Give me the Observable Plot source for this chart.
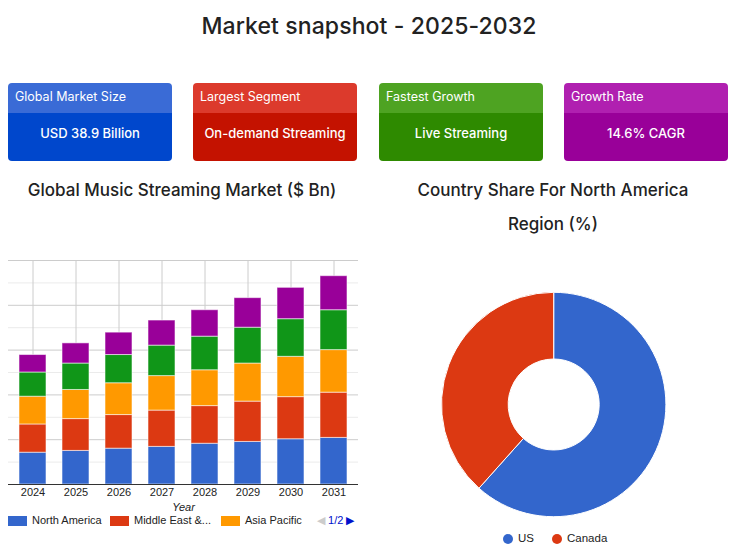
<!DOCTYPE html>
<html>
<head>
<meta charset="utf-8">
<script src="https://cdn.jsdelivr.net/npm/d3@7"></script>
<script src="https://cdn.jsdelivr.net/npm/@observablehq/plot@0.6"></script>
<style>
  html, body { margin: 0; padding: 0; background: #fff; }
  body { width: 738px; height: 558px; position: relative; overflow: hidden; font-family: Inter, "Noto Sans", sans-serif; color: #222; }
  .abs { position: absolute; }
  #title { left: 0; width: 738px; top: 12px; text-align: center; font-size: 23px; font-weight: 500; color: #222; letter-spacing: 0.1px; }
  .card { position: absolute; top: 83px; width: 164px; height: 78px; border-radius: 4px; overflow: hidden; color: #fff; }
  .card .hd { height: 30px; line-height: 27px; padding-left: 7px; font-size: 12.5px; }
  .card .bd { height: 48px; line-height: 40px; text-align: center; font-size: 13px; font-weight: 500; }
  .ctitle { font-size: 17px; font-weight: 500; color: #222; text-align: center; }
  .lg { position: absolute; font-family: Arial, "Liberation Sans", sans-serif; font-size: 11px; color: #222; white-space: nowrap; }
  .sw { position: absolute; width: 19px; height: 10px; }
  .dot { position: absolute; width: 10px; height: 10px; border-radius: 50%; }
</style>
</head>
<body>
<div id="title" class="abs">Market snapshot - 2025-2032</div>
<div id="cards"></div>
<div class="abs ctitle" style="left:0; width:364px; top:180px;">Global Music Streaming Market ($ Bn)</div>
<div class="abs ctitle" style="left:370px; width:366px; top:173px; line-height:34px;">Country Share For North America<br>Region (%)</div>
<div id="bar" class="abs" style="left:0; top:250px;"></div>
<div id="barLegend"></div>
<div id="donut" class="abs" style="left:370px; top:280px;"></div>
<div id="donutLegend"></div>
<script>
// ---- data ----
const cardTitles = ["Global Market Size", "Largest Segment", "Fastest Growth", "Growth Rate"];
const cardValues = ["USD 38.9 Billion", "On-demand Streaming", "Live Streaming", "14.6% CAGR"];
const cardHeadColors = ["#3a6bd6", "#dc3a2c", "#4ea322", "#b020b0"];
const cardBodyColors = ["#0047cc", "#c41200", "#2e8a00", "#990099"];

const years = ["2024", "2025", "2026", "2027", "2028", "2029", "2030", "2031"];
const regions = ["North America", "Middle East & Africa", "Asia Pacific", "Europe", "Latin America"];
const regionColors = ["#3366cc", "#dc3912", "#ff9900", "#109618", "#990099"];
const northAmerica = [7.1, 7.5, 8.0, 8.4, 9.1, 9.5, 10.1, 10.4];
const middleEastAfrica = [6.3, 7.1, 7.5, 8.1, 8.4, 9.0, 9.4, 10.1];
const asiaPacific = [6.2, 6.5, 7.1, 7.7, 8.0, 8.5, 9.0, 9.5];
const europe = [5.4, 5.9, 6.3, 6.8, 7.5, 8.0, 8.4, 8.9];
const latinAmerica = [3.9, 4.5, 5.0, 5.6, 5.9, 6.6, 7.0, 7.6];
const yTicksMajor = [0, 10, 20, 30, 40, 50];
const yTicksMinor = [5, 15, 25, 35, 45];

const shareNames = ["US", "Canada"];
const shareValues = [61.6, 38.4];
const shareColors = ["#3366cc", "#dc3912"];

// ---- cards ----
const cardLeft = [8, 193, 379, 564];
const cardsEl = document.getElementById("cards");
cardTitles.forEach((t, i) => {
  const c = document.createElement("div");
  c.className = "card";
  c.style.left = cardLeft[i] + "px";
  c.innerHTML = `<div class="hd" style="background:${cardHeadColors[i]}">${t}</div><div class="bd" style="background:${cardBodyColors[i]}">${cardValues[i]}</div>`;
  cardsEl.appendChild(c);
});

// ---- bar chart ----
const seriesArrays = [northAmerica, middleEastAfrica, asiaPacific, europe, latinAmerica];
const table = [];
regions.forEach((r, ri) => years.forEach((y, yi) => table.push({year: y, region: r, value: seriesArrays[ri][yi]})));

const barPlot = Plot.plot({
  width: 370, height: 264,
  marginLeft: 8, marginRight: 12, marginTop: 10, marginBottom: 30,
  style: {fontFamily: "Arial, 'Liberation Sans', sans-serif", fontSize: "11px", color: "#222", background: "transparent"},
  x: {domain: years, paddingInner: 0.38, paddingOuter: 0.216, align: 0.5, label: null, tickSize: 0, tickPadding: 4},
  y: {domain: [0, 50], axis: null},
  color: {domain: regions, range: regionColors},
  marks: [
    Plot.ruleY(yTicksMinor, {stroke: "#ebebeb", strokeWidth: 1}),
    Plot.ruleY(yTicksMajor, {stroke: "#cccccc", strokeWidth: 1}),
    Plot.ruleX(years, {stroke: "#cccccc", strokeWidth: 1}),
    Plot.barY(table, {x: "year", y: "value", fill: "region", order: regions, stroke: "#ffffff", strokeOpacity: 0.55, strokeWidth: 1}),
    Plot.ruleY([0], {stroke: "#333333", strokeWidth: 1}),
    Plot.axisX({tickSize: 0, tickPadding: 4, fill: "#222"}),
    Plot.text(["Year"], {frameAnchor: "bottom", dy: 26, fontStyle: "italic", fill: "#222", fontSize: 11})
  ]
});
document.getElementById("bar").appendChild(barPlot);

// bar legend (first page of 2)
const barLegendEl = document.getElementById("barLegend");
const legItems = [
  {label: "North America", c: regionColors[0], x: 8},
  {label: "Middle East &...", c: regionColors[1], x: 110},
  {label: "Asia Pacific", c: regionColors[2], x: 221}
];
legItems.forEach(it => {
  barLegendEl.insertAdjacentHTML("beforeend",
    `<div class="sw" style="left:${it.x}px; top:516px; background:${it.c}"></div><div class="lg" style="left:${it.x + 24}px; top:514px;">${it.label}</div>`);
});
barLegendEl.insertAdjacentHTML("beforeend",
  `<div class="lg" style="left:317px; top:514px;"><span style="color:#ccc">&#9664;</span> <span style="color:#0011cc">1/2</span> <span style="color:#0011cc">&#9654;</span></div>`);

// ---- donut ----
const donutColor = Plot.scale({color: {type: "ordinal", domain: shareNames, range: shareColors}});
const shareData = shareNames.map((n, i) => ({name: n, value: shareValues[i]}));
const donutPlot = Plot.plot({
  width: 368, height: 250,
  margin: 0,
  style: {background: "transparent"},
  x: {axis: null}, y: {axis: null},
  marks: [
    (index, scales, values, dims) => {
      const g = d3.create("svg:g");
      const cx = 183.7, cy = 124.5, R = 112.2, r = 45.5;
      const pie = d3.pie().sort(null).value(d => d.value)(shareData);
      const arc = d3.arc().innerRadius(r).outerRadius(R);
      g.attr("transform", `translate(${cx},${cy})`)
        .selectAll("path").data(pie).join("path")
        .attr("d", arc)
        .attr("fill", d => donutColor.apply(d.data.name))
        .attr("stroke", "#fff").attr("stroke-width", 1);
      return g.node();
    }
  ]
});
document.getElementById("donut").appendChild(donutPlot);

const donutLegendEl = document.getElementById("donutLegend");
const dl = [{x: 503, tx: 518}, {x: 552, tx: 567}];
shareNames.forEach((n, i) => {
  donutLegendEl.insertAdjacentHTML("beforeend",
    `<div class="dot" style="left:${dl[i].x}px; top:534px; background:${donutColor.apply(n)}"></div><div class="lg" style="left:${dl[i].tx}px; top:532px; font-size:11.5px;">${n}</div>`);
});
</script>
</body>
</html>
